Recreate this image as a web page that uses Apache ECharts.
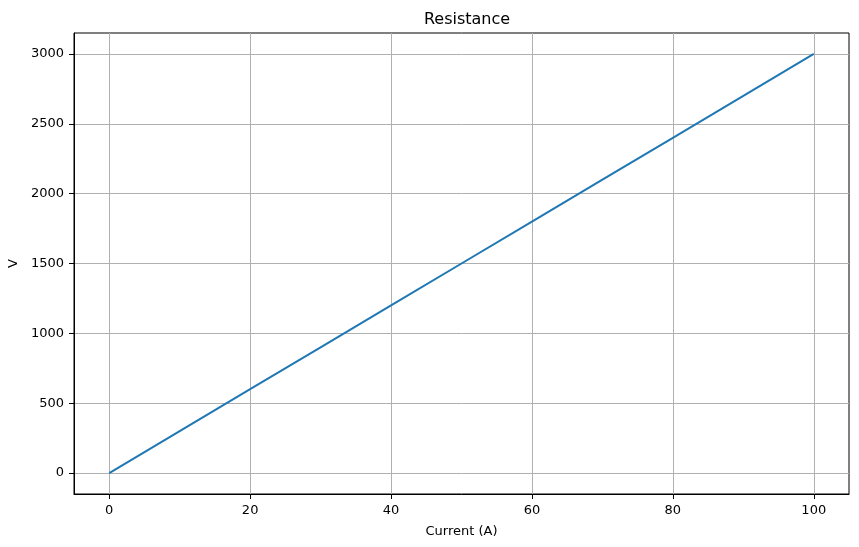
<!DOCTYPE html>
<html>
<head>
<meta charset="utf-8">
<script src="https://cdn.jsdelivr.net/npm/echarts@6/dist/echarts.min.js"></script>
<style>html,body{margin:0;padding:0;background:#fff}#c{width:859px;height:547px}</style>
</head>
<body>
<div id="c"></div>
<script>
const titleText = "Resistance";
const xName = "Current (A)";
const yName = "V";
const currents = [0, 10, 20, 30, 40, 50, 60, 70, 80, 90, 100];
const voltages = [0, 300, 600, 900, 1200, 1500, 1800, 2100, 2400, 2700, 3000];
const xTicks = [0, 20, 40, 60, 80, 100];
const yTicks = [0, 500, 1000, 1500, 2000, 2500, 3000];

const font = "DejaVu Sans";
const chart = echarts.init(document.getElementById('c'));
chart.setOption({
  animation: false,
  backgroundColor: '#fff',
  title: {
    text: titleText, left: 462, top: 7, textAlign: 'center',
    textStyle: {fontFamily: font, fontSize: 16, fontWeight: 'normal', color: '#000'}
  },
  grid: {left: 74, top: 33, width: 775, height: 461, show: true, borderColor: '#000', borderWidth: 1, backgroundColor: 'transparent', containLabel: false, outerBoundsMode: 'none'},
  xAxis: {
    type: 'value', min: -5, max: 105,
    name: xName, nameLocation: 'middle', nameGap: 31,
    nameTextStyle: {fontFamily: font, fontSize: 13, color: '#000'},
    axisLine: {show: true, onZero: false, lineStyle: {color: '#000', width: 1}},
    axisTick: {show: true, inside: false, length: 5, lineStyle: {color: '#000', width: 1}, customValues: xTicks},
    axisLabel: {fontFamily: font, fontSize: 13, color: '#000', margin: 10, customValues: xTicks, formatter: v => String(v)},
    splitLine: {show: true, lineStyle: {color: '#b0b0b0', width: 1}}
  },
  yAxis: {
    type: 'value', min: -150, max: 3150,
    name: yName, nameLocation: 'middle', nameGap: 53, nameRotate: 90,
    nameTextStyle: {fontFamily: font, fontSize: 13, color: '#000'},
    axisLine: {show: true, onZero: false, lineStyle: {color: '#000', width: 1}},
    axisTick: {show: true, inside: false, length: 5, lineStyle: {color: '#000', width: 1}, customValues: yTicks},
    axisLabel: {fontFamily: font, fontSize: 13, color: '#000', margin: 10, customValues: yTicks, formatter: v => String(v)},
    splitLine: {show: true, lineStyle: {color: '#b0b0b0', width: 1}}
  },
  series: [{
    type: 'line', data: currents.map((c, i) => [c, voltages[i]]),
    showSymbol: false, symbol: 'none',
    lineStyle: {color: '#1f77b4', width: 2}
  }]
});
</script>
</body>
</html>
